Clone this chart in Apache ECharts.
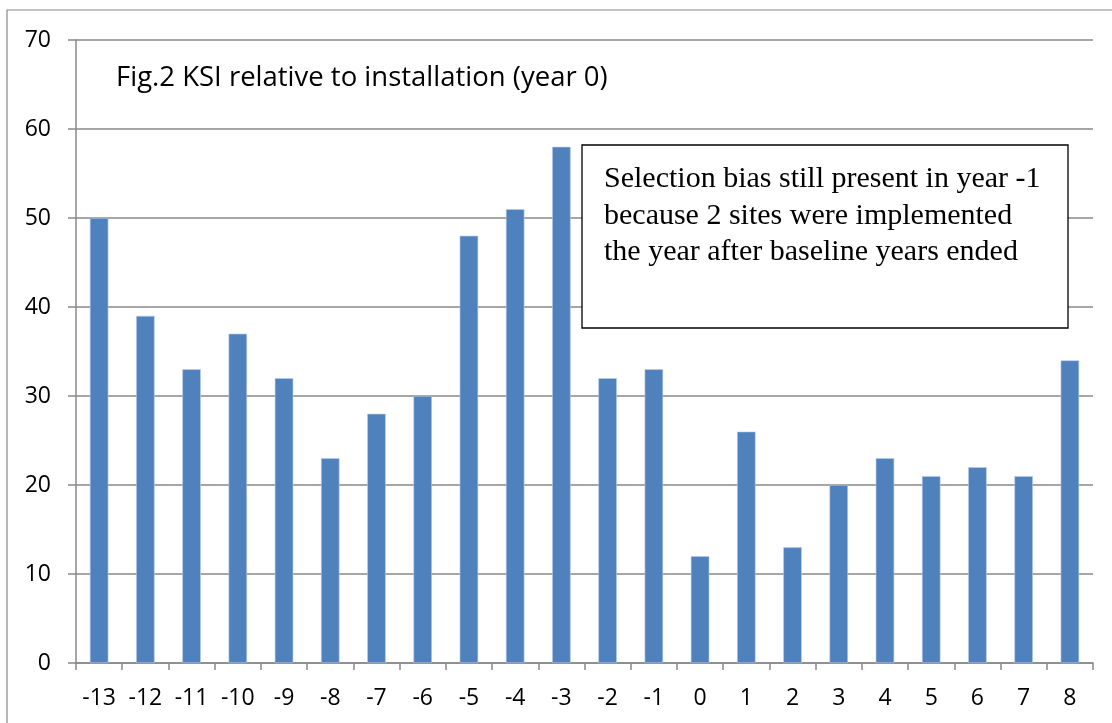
<!DOCTYPE html>
<html>
<head>
<meta charset="utf-8">
<script src="https://cdn.jsdelivr.net/npm/echarts@6/dist/echarts.min.js"></script>
<style>
html,body{margin:0;padding:0;background:#fff;}
#chart{width:1112px;height:723px;}
</style>
</head>
<body>
<div id="chart"></div>
<script>
const years = ['-13','-12','-11','-10','-9','-8','-7','-6','-5','-4','-3','-2','-1','0','1','2','3','4','5','6','7','8'];
const ksi = [50,39,33,37,32,23,28,30,48,51,58,32,33,12,26,13,20,23,21,22,21,34];
const yTicks = {min:0, max:70, interval:10};
const titleText = 'Fig.2 KSI relative to installation (year 0)';
const noteLines = ['Selection bias still present in year -1','because 2 sites were implemented','the year after baseline years ended'];

const chart = echarts.init(document.getElementById('chart'));
const axisGray = '#898989';
chart.setOption({
  animation: false,
  backgroundColor: '#fff',
  grid: {left: 76, right: 19, top: 40, bottom: 60, containLabel: false},
  xAxis: {
    type: 'category',
    data: years,
    boundaryGap: true,
    axisLine: {lineStyle: {color: axisGray, width: 1.5}},
    axisTick: {show: true, length: 7, lineStyle: {color: axisGray, width: 1.5}},
    axisLabel: {color: '#000', fontFamily: 'Open Sans', fontSize: 23, margin: 24, interval: 0}
  },
  yAxis: {
    type: 'value',
    min: yTicks.min, max: yTicks.max, interval: yTicks.interval,
    axisLine: {show: true, lineStyle: {color: axisGray, width: 1.5}},
    axisTick: {show: true, length: 8, lineStyle: {color: axisGray, width: 1.5}},
    axisLabel: {color: '#000', fontFamily: 'Open Sans', fontSize: 23, margin: 25},
    splitLine: {show: true, lineStyle: {color: axisGray, width: 1.5}}
  },
  series: [{
    type: 'bar',
    data: ksi,
    barWidth: '40%',
    itemStyle: {color: '#4F81BD', borderColor: '#B9CDE5', borderWidth: 0.6}
  }],
  graphic: [
    {type: 'rect', shape: {x: 7, y: 10, width: 1200, height: 800}, style: {fill: 'none', stroke: axisGray, lineWidth: 1.2}, z: -1, silent: true},
    {type: 'text', x: 116, y: 78, style: {text: titleText, fill: '#000', fontFamily: 'Open Sans', fontSize: 27.5, verticalAlign: 'middle'}, z: 10},
    {type: 'rect', shape: {x: 582, y: 145, width: 486, height: 183}, style: {fill: '#fff', stroke: '#000', lineWidth: 1.3}, z: 20},
    {type: 'text', x: 604, y: 161, style: {text: noteLines.join('\n'), fill: '#000', fontFamily: 'Liberation Serif', fontSize: 30, lineHeight: 36.5, verticalAlign: 'top'}, z: 21}
  ]
});
</script>
</body>
</html>
